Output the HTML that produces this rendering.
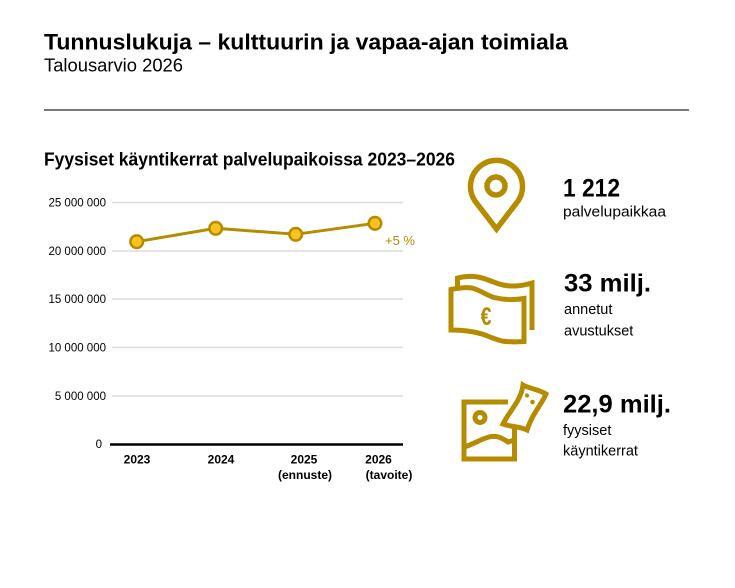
<!DOCTYPE html>
<html><head><meta charset="utf-8"><style>
html,body{margin:0;padding:0;background:#fff;}
svg{display:block;}
text{font-family:"Liberation Sans",sans-serif;}
</style></head><body>
<svg width="735" height="588" viewBox="0 0 735 588" xmlns="http://www.w3.org/2000/svg">
<rect width="735" height="588" fill="#fff"/>
<text x="44" y="49.5" font-size="22" font-weight="bold" fill="#000" textLength="524" lengthAdjust="spacingAndGlyphs">Tunnuslukuja – kulttuurin ja vapaa-ajan toimiala</text>
<text x="44" y="71.5" font-size="18" fill="#000" textLength="139" lengthAdjust="spacingAndGlyphs">Talousarvio 2026</text>
<line x1="44" y1="110" x2="689" y2="110" stroke="#7a7a7a" stroke-width="2"/>
<text x="44" y="165.5" font-size="18" font-weight="bold" fill="#000" textLength="411" lengthAdjust="spacingAndGlyphs">Fyysiset käyntikerrat palvelupaikoissa 2023–2026</text>

<g stroke="#dcdcdc" stroke-width="1.5">
<line x1="112" y1="202.5" x2="403" y2="202.5"/>
<line x1="112" y1="251" x2="403" y2="251"/>
<line x1="112" y1="299" x2="403" y2="299"/>
<line x1="112" y1="347.5" x2="403" y2="347.5"/>
<line x1="112" y1="396" x2="403" y2="396"/>
</g>
<line x1="110" y1="444.5" x2="403" y2="444.5" stroke="#000" stroke-width="2.5"/>
<g font-size="11.5" fill="#000" text-anchor="end">
<text x="106" y="206.5">25 000 000</text>
<text x="106" y="255">20 000 000</text>
<text x="106" y="303">15 000 000</text>
<text x="106" y="351.5">10 000 000</text>
<text x="106" y="400">5 000 000</text>
<text x="102" y="448">0</text>
</g>
<g font-size="12" font-weight="bold" fill="#000" text-anchor="middle">
<text x="137" y="463.5">2023</text>
<text x="221" y="463.5">2024</text>
<text x="304" y="463.5">2025</text>
<text x="305" y="479">(ennuste)</text>
<text x="378.5" y="463.5">2026</text>
<text x="389" y="479">(tavoite)</text>
</g>
<polyline points="136.7,241.7 215.7,228.3 295.7,234.3 375,223.3" fill="none" stroke="#b58c00" stroke-width="3"/>
<g fill="#fcc320" stroke="#b58c00" stroke-width="2.5">
<circle cx="136.7" cy="241.7" r="6.3"/>
<circle cx="215.7" cy="228.3" r="6.3"/>
<circle cx="295.7" cy="234.3" r="6.3"/>
<circle cx="375" cy="223.3" r="6.3"/>
</g>
<text x="385" y="245" font-size="13" fill="#b58c00">+5 %</text>

<!-- pin icon -->
<g fill="none" stroke="#b58c00" stroke-width="5.5" stroke-linejoin="miter">
<path d="M496.5,229 L475,201 A26,26 0 1 1 518,201 Z"/>
<circle cx="496" cy="186" r="9"/>
</g>

<!-- money icon -->
<g fill="none" stroke="#b58c00" stroke-width="5" stroke-linejoin="miter">
<path d="M457.5,288 L457.5,278 C466,276 472,276 478,277 C488,279 494,283 503,285 C512,287 522,286 532,283 L532,330"/>
<path d="M451,330 L451,289.5 C458,288 466,287 472,288 C480,290 486,295 494,297.5 C504,300 515,300 524,298.5 L524,341.5 C516,342 508,342 502,341 C494,339 488,336 482,334 C472,331 462,330 451,330 Z"/>
</g>
<text x="0" y="0" font-size="25" font-weight="bold" fill="#b58c00" text-anchor="middle" transform="translate(486,325) scale(0.78,1)">€</text>

<!-- ticket / image icon -->
<g fill="none" stroke="#b58c00" stroke-width="5" stroke-linejoin="miter">
<path d="M508,402 L464,402 L464,459 L514.5,459 L514.5,428"/>
<circle cx="480" cy="417.5" r="5"/>
<path d="M464,447 C474,444 481,439 489,437 C497,435 502,438 508,442 L514.5,440"/>
<path d="M523,385 C530,389 538,389 546,394 C542,404 532,414 527,430 C519,426 511,427 503,424 C510,410 521,401 523,385 Z"/>
</g>
<circle cx="532.5" cy="402" r="2.3" fill="#b58c00"/>
<circle cx="527" cy="395.5" r="2.1" fill="#b58c00"/>

<!-- stats -->
<text x="563" y="196.5" font-size="25" font-weight="bold" fill="#000" textLength="57" lengthAdjust="spacingAndGlyphs">1 212</text>
<text x="563" y="216.5" font-size="14.5" fill="#000" textLength="103" lengthAdjust="spacingAndGlyphs">palvelupaikkaa</text>
<text x="564" y="291.5" font-size="25" font-weight="bold" fill="#000" textLength="87" lengthAdjust="spacingAndGlyphs">33 milj.</text>
<text x="564" y="314" font-size="14.5" fill="#000">annetut</text>
<text x="564" y="335.5" font-size="14.5" fill="#000">avustukset</text>
<text x="563" y="412.5" font-size="25" font-weight="bold" fill="#000" textLength="108" lengthAdjust="spacingAndGlyphs">22,9 milj.</text>
<text x="563" y="435" font-size="14.5" fill="#000">fyysiset</text>
<text x="563" y="455.5" font-size="14.5" fill="#000">käyntikerrat</text>
</svg>
</body></html>
